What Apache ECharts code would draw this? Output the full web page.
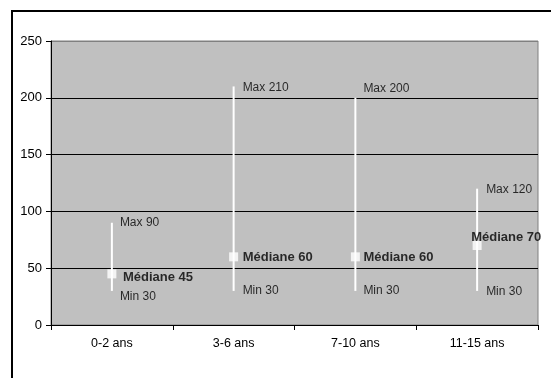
<!DOCTYPE html>
<html>
<head>
<meta charset="utf-8">
<script src="https://cdn.jsdelivr.net/npm/echarts@6/dist/echarts.min.js"></script>
<style>
  html, body { margin: 0; padding: 0; background: #fff; }
  #chart { width: 551px; height: 378px; }
</style>
</head>
<body>
<div id="chart"></div>
<script>
// Age groups and their ranges (min / median / max)
const categories = ['0-2 ans', '3-6 ans', '7-10 ans', '11-15 ans'];
const minValues = [30, 30, 30, 30];
const medianValues = [45, 60, 60, 70];
const maxValues = [90, 210, 200, 120];
const yTicks = [0, 50, 100, 150, 200, 250];

// Per-label nudges [dx, dy] so the annotations sit clear of the whiskers
const maxNudge = [[8, 0], [9, 1], [8, -9], [9, 1]];
const minNudge = [[8, 6], [9, 0], [8, 0], [9, 1]];
const medNudge = [[11, 4], [9, 1], [8, 1], [-6, -8]];

const font = 'Liberation Sans, Arial, sans-serif';

function labelSeries(values, prefix, nudges, bold) {
  return {
    type: 'scatter',
    symbolSize: 0,
    silent: true,
    z: 5,
    data: values.map((v, i) => ({
      value: [i, v],
      label: { offset: nudges[i] }
    })),
    label: {
      show: true,
      position: 'right',
      distance: 0,
      formatter: p => prefix + p.value[1],
      color: '#000',
      fontFamily: font,
      fontSize: bold ? 13 : 12,
      fontWeight: bold ? 'bold' : 'normal'
    }
  };
}

const chart = echarts.init(document.getElementById('chart'), null, { renderer: 'canvas' });
chart.setOption({
  animation: false,
  backgroundColor: '#fff',
  graphic: [{
    type: 'rect',
    shape: { x: 12, y: 11, width: 700, height: 500 },
    style: { fill: null, stroke: '#000', lineWidth: 2 },
    z: 100
  }],
  grid: {
    left: 51, top: 41, right: 13, bottom: 53,
    show: true,
    backgroundColor: '#C0C0C0',
    borderColor: '#808080',
    borderWidth: 1
  },
  xAxis: {
    type: 'category',
    data: categories,
    boundaryGap: true,
    axisLine: { lineStyle: { color: '#000', width: 1 } },
    axisTick: { show: true, length: 5, lineStyle: { color: '#000' } },
    axisLabel: { color: '#000', fontFamily: font, fontSize: 12.5, margin: 12 },
    splitLine: { show: false }
  },
  yAxis: {
    type: 'value',
    min: yTicks[0],
    max: yTicks[yTicks.length - 1],
    interval: yTicks[1] - yTicks[0],
    axisLine: { show: true, lineStyle: { color: '#000', width: 1 } },
    axisTick: { show: true, length: 5, lineStyle: { color: '#000' } },
    axisLabel: { color: '#000', fontFamily: font, fontSize: 13, margin: 9 },
    splitLine: {
      show: true,
      lineStyle: { color: ['#000', '#000', '#000', '#000', '#000', '#808080'], width: 1 }
    }
  },
  series: [
    {
      // min-to-max whiskers
      type: 'custom',
      z: 3,
      silent: true,
      data: categories.map((c, i) => [i, minValues[i], maxValues[i]]),
      renderItem: (params, api) => {
        const lo = api.coord([api.value(0), api.value(1)]);
        const hi = api.coord([api.value(0), api.value(2)]);
        return {
          type: 'line',
          shape: { x1: lo[0], y1: lo[1], x2: hi[0], y2: hi[1] },
          style: { stroke: '#fff', lineWidth: 2 }
        };
      }
    },
    {
      // median markers
      type: 'scatter',
      z: 4,
      silent: true,
      symbol: 'rect',
      symbolSize: 9,
      itemStyle: { color: '#fff' },
      data: medianValues.map((v, i) => [i, v])
    },
    labelSeries(maxValues, 'Max ', maxNudge, false),
    labelSeries(minValues, 'Min ', minNudge, false),
    labelSeries(medianValues, 'Médiane ', medNudge, true)
  ]
});
</script>
</body>
</html>
